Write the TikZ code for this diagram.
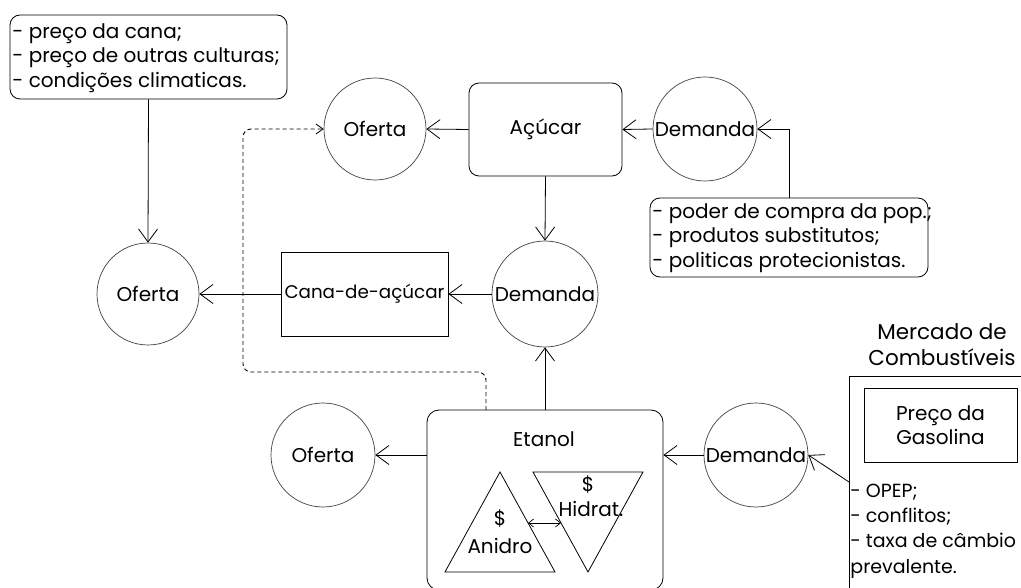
\documentclass[tikz,border=0pt]{standalone}
\usepackage{fontspec}
\setmainfont{Poppins}
\usetikzlibrary{arrows.meta}
\newcommand{\fs}{\fontsize{20}{24.5}\selectfont}
\newcommand{\fsc}{\fontsize{18.3}{24.5}\selectfont}
\newcommand{\fsg}{\fontsize{19}{25.3}\selectfont}
\newcommand{\fst}{\fontsize{21.5}{26}\selectfont}
\begin{document}
\begin{tikzpicture}[x=1pt,y=-1pt,
  line width=0.8pt,
  circ/.style={circle, draw=black!75, line width=0.7pt, minimum size=#1, inner sep=0pt, font=\fs},
  circ/.default=104pt,
  rbox/.style={draw, rounded corners=10pt, inner sep=0pt, font=\fs},
  sbox/.style={draw, inner sep=0pt, font=\fs},
  lst/.style={inner sep=0pt, align=left, font=\fs, anchor=west},
  arr/.style={-{Straight Barb[length=13pt,width=19pt,line width=0.8pt]}},
  darr/.style={dashed, -{Straight Barb[length=7pt,width=10pt,line width=0.8pt]}},
  sarr/.style={{Straight Barb[length=5pt,width=8pt,line width=0.7pt]}-{Straight Barb[length=5pt,width=8pt,line width=0.7pt]}, line width=0.7pt}
]
\clip (0,0) rectangle (1021,588);
\useasboundingbox (0,0) rectangle (1021,588);
% top-left factors box
\node[rbox, minimum width=277pt, minimum height=84pt] (tl) at (148.5,57) {};
\node[lst] (tltxt) at (12,58) {- preço da cana;\\- preço de outras culturas;\\- condições climaticas.};
% circles and boxes
\node[circ=102pt] (ofL) at (148,294) {Oferta};
\node[sbox, font=\fsc, minimum width=167pt, minimum height=84pt] (cana) at (364.5,294) {Cana-de-açúcar};
\node[circ=106pt] (demM) at (545,294) {Demanda};
\node[circ=102pt] (ofT) at (375,129) {Oferta};
\node[rbox, minimum width=153pt, minimum height=93pt] (acu) at (545.5,129.5) {Açúcar};
\node[circ=104pt] (demT) at (705,129) {Demanda};
\node[rbox, minimum width=278pt, minimum height=79pt] (poder) at (789,237.5) {};
\node[lst] (podertxt) at (652,238) {- poder de compra da pop.;\\- produtos substitutos;\\- politicas protecionistas.};
\node[circ=104pt] (ofB) at (323,455) {Oferta};
\node[rbox, rounded corners=12pt, minimum width=236pt, minimum height=180pt] (eta) at (545,500) {};
\node[font=\fs, inner sep=0pt] (etatxt) at (544,439) {Etanol};
\node[circ=104pt] (demB) at (756,455) {Demanda};
% triangles
\draw[line width=0.8pt] (500,472) coordinate (anA) -- (555,572) -- (445,572) -- cycle;
\draw[line width=0.8pt] (533,472) -- (643,472) -- (588,572) coordinate (hiA) -- cycle;
\node[font=\fs, inner sep=0pt] (anS) at (500,518) {\$};
\node[font=\fs, inner sep=0pt] (anT) at (500,546) {Anidro};
\node[font=\fs, inner sep=0pt] (hiS) at (588,484) {\$};
\node[font=\fs, inner sep=0pt] (hiT) at (591,509) {Hidrat.};
\coordinate (anR) at (528,523);
\coordinate (hiL) at (561,523);
\draw[sarr] (anR) -- (hiL);
% fuel market
\node[font=\fst, align=center, inner sep=0pt] (mtitle) at (942,345) {Mercado de\\Combustíveis};
\node[sbox, minimum width=190pt, minimum height=230pt] (gas) at (944,491) {};
\node[sbox, minimum width=153pt, minimum height=74pt, align=center] (gasp) at (940.5,425) {Preço da\\Gasolina};
\node[lst, font=\fsg] (gastxt) at (850,531) {- OPEP;\\- conflitos;\\- taxa de câmbio\\prevalente.};
\coordinate (gasin) at (849,482);
% connectors
\draw[arr] (tl.south) -- (ofL.north);
\draw[arr] (cana.west) -- (ofL.east);
\draw[arr] (demM.west) -- (cana.east);
\draw[arr] (acu.west) -- (ofT.east);
\draw[arr] (demT.west) -- (acu.east);
\draw[arr] (poder.north) |- (demT.east);
\draw[arr] (acu.south) -- (demM.north);
\draw[arr] (eta.north) -- (demM.south);
\draw[arr] (eta.west |- ofB.east) -- (ofB.east);
\draw[arr] (demB.west) -- (demB.west -| eta.east);
\draw[arr] (gasin) -- (demB.east);
\coordinate (d1) at (486,410);
\coordinate (d2) at (486,372);
\coordinate (d3) at (243,372);
\coordinate (d4) at (243,129);
\draw[darr, line width=0.9pt, dash pattern=on 4pt off 3pt, rounded corners=8pt] (d1) -- (d2) -- (d3) -- (d4) -- (ofT.west);
\end{tikzpicture}
\end{document}
